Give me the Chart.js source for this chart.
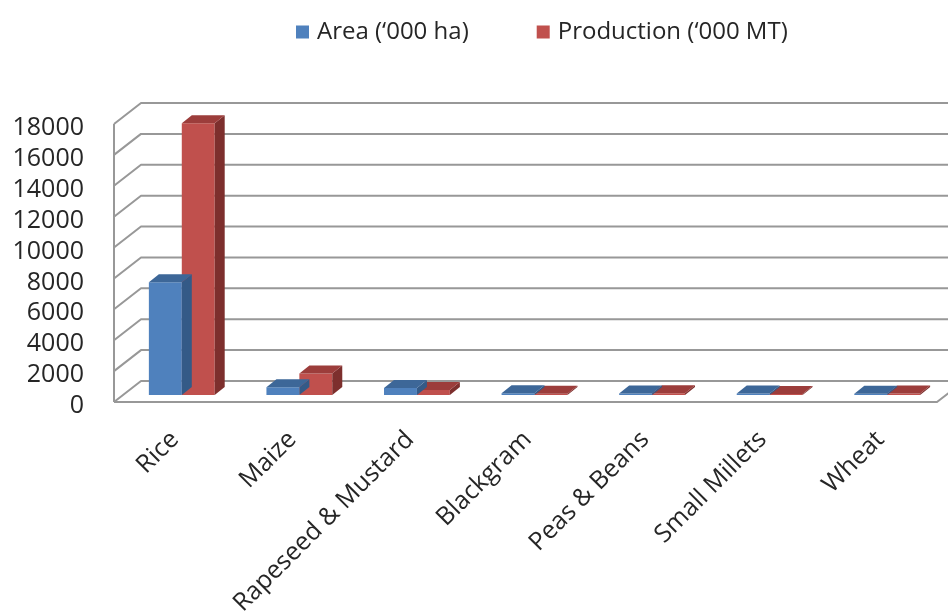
<!DOCTYPE html>
<html>
<head>
<meta charset="utf-8">
<script src="https://cdn.jsdelivr.net/npm/chart.js@4.4.1/dist/chart.umd.min.js"></script>
<style>
  html, body { margin: 0; padding: 0; background: #ffffff; }
  #wrap { width: 948px; height: 614px; }
</style>
</head>
<body>
<div id="wrap"><canvas id="c" width="948" height="614"></canvas></div>
<script>
// Crop area and production, in thousands
const categories = ['Rice', 'Maize', 'Rapeseed & Mustard', 'Blackgram', 'Peas & Beans', 'Small Millets', 'Wheat'];
const areaValues = [7300, 500, 460, 110, 100, 90, 80];
const productionValues = [17600, 1400, 330, 80, 110, 70, 100];
const seriesLabels = ['Area (\u2018000 ha)', 'Production (\u2018000 MT)'];
const yTickMin = 0;
const yTickMax = 18000;
const yTickStep = 2000;

const FONT = '"Open Sans", "Noto Sans", sans-serif';
const TEXT_COLOR = '#262626';
const GRID_COLOR = '#989898';

// 3D geometry relative to the bar plane (the plane the scales map to)
const FRONT = { dx: -9, dy: 7 };   // front edge of floor and side wall
const BACK = { dx: 18, dy: -14 };  // back wall
const DEPTH = { dx: 10, dy: -8 };  // bar thickness

const faceColors = [
  { top: '#3d6798', side: '#345a87' },
  { top: '#9c3d3b', side: '#7d2f2d' }
];

// Walls, floor and gridlines
const wallsPlugin = {
  id: 'walls',
  beforeDatasetsDraw(chart) {
    const { ctx, chartArea: ca } = chart;
    const ys = chart.scales.y;
    ctx.save();
    ctx.strokeStyle = GRID_COLOR;
    ctx.lineWidth = 2;
    ctx.lineJoin = 'round';
    const lf = ca.left + FRONT.dx, lb = ca.left + BACK.dx;
    const rf = ca.right + FRONT.dx, rb = ca.right + BACK.dx;
    ys.ticks.forEach(t => {
      const y = ys.getPixelForValue(t.value);
      ctx.beginPath();
      ctx.moveTo(lf, y + FRONT.dy);
      ctx.lineTo(lb, y + BACK.dy);
      ctx.lineTo(rb, y + BACK.dy);
      ctx.stroke();
    });
    const y0 = ys.getPixelForValue(yTickMin);
    const yMax = ys.getPixelForValue(yTickMax);
    // side wall front edge
    ctx.beginPath();
    ctx.moveTo(lf, yMax + FRONT.dy);
    ctx.lineTo(lf, y0 + FRONT.dy);
    ctx.stroke();
    // floor front and right edges
    ctx.beginPath();
    ctx.moveTo(lf, y0 + FRONT.dy);
    ctx.lineTo(rf, y0 + FRONT.dy);
    ctx.lineTo(rb, y0 + BACK.dy);
    ctx.stroke();
    ctx.restore();
  }
};

// Top and side faces of each bar
const barFacesPlugin = {
  id: 'barFaces',
  afterDatasetDraw(chart, args) {
    const { ctx } = chart;
    const colors = faceColors[args.index];
    ctx.save();
    args.meta.data.forEach(bar => {
      const p = bar.getProps(['x', 'y', 'base', 'width'], true);
      const l = p.x - p.width / 2, r = p.x + p.width / 2;
      const top = Math.min(p.y, p.base), bottom = Math.max(p.y, p.base);
      ctx.fillStyle = colors.side;
      ctx.beginPath();
      ctx.moveTo(r, top);
      ctx.lineTo(r + DEPTH.dx, top + DEPTH.dy);
      ctx.lineTo(r + DEPTH.dx, bottom + DEPTH.dy);
      ctx.lineTo(r, bottom);
      ctx.closePath();
      ctx.fill();
      ctx.fillStyle = colors.top;
      ctx.beginPath();
      ctx.moveTo(l, top);
      ctx.lineTo(l + DEPTH.dx, top + DEPTH.dy);
      ctx.lineTo(r + DEPTH.dx, top + DEPTH.dy);
      ctx.lineTo(r, top);
      ctx.closePath();
      ctx.fill();
    });
    ctx.restore();
  }
};

// Legend row above the plot
const legendPlugin = {
  id: 'legendRow',
  afterDraw(chart) {
    const { ctx } = chart;
    const box = 13, gap = 8, itemGap = 68;
    let x = 296;
    const y = 32;
    ctx.save();
    ctx.font = '24px ' + FONT;
    ctx.textBaseline = 'middle';
    ctx.textAlign = 'left';
    chart.data.datasets.forEach(ds => {
      ctx.fillStyle = ds.backgroundColor;
      ctx.fillRect(x, y - box / 2, box, box);
      x += box + gap;
      ctx.fillStyle = TEXT_COLOR;
      ctx.fillText(ds.label, x, y);
      x += ctx.measureText(ds.label).width + itemGap;
    });
    ctx.restore();
  }
};

new Chart(document.getElementById('c'), {
  type: 'bar',
  data: {
    labels: categories,
    datasets: [
      { label: seriesLabels[0], data: areaValues, backgroundColor: '#4f81bd' },
      { label: seriesLabels[1], data: productionValues, backgroundColor: '#c0504d' }
    ]
  },
  options: {
    responsive: false,
    animation: false,
    devicePixelRatio: 1,
    layout: { padding: { top: 117, right: 2, left: 0, bottom: 0 } },
    datasets: { bar: { categoryPercentage: 0.56, barPercentage: 1.0, borderWidth: 0 } },
    plugins: { legend: { display: false }, tooltip: { enabled: false } },
    scales: {
      x: {
        grid: { display: false, drawTicks: false },
        border: { display: false },
        afterFit(scale) { scale.height = 219; },
        ticks: {
          autoSkip: false,
          maxRotation: 45,
          minRotation: 45,
          padding: 30,
          labelOffset: -7,
          color: TEXT_COLOR,
          font: { family: FONT, size: 25 }
        }
      },
      y: {
        min: yTickMin,
        max: yTickMax,
        grid: { display: false, drawTicks: false },
        border: { display: false },
        afterFit(scale) { scale.width = 123; },
        ticks: {
          autoSkip: false,
          stepSize: yTickStep,
          padding: 39,
          labelOffset: 11,
          color: TEXT_COLOR,
          font: { family: FONT, size: 25 },
          callback: v => String(v)
        }
      }
    }
  },
  plugins: [wallsPlugin, barFacesPlugin, legendPlugin]
});
</script>
</body>
</html>
